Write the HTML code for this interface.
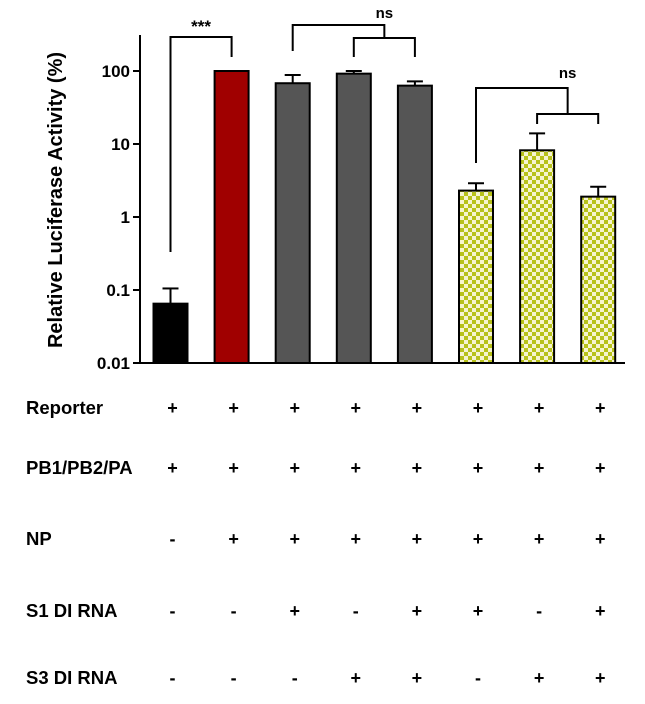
<!DOCTYPE html>
<html><head><meta charset="utf-8"><style>
body{margin:0;background:#fff;width:645px;height:699px;overflow:hidden}
text{font-family:"Liberation Sans",sans-serif;font-weight:bold}
</style></head><body>
<svg id="c" width="645" height="699">
<defs>
<pattern id="chk" width="8" height="8" patternUnits="userSpaceOnUse">
<rect width="8" height="8" fill="#f6f4d0"/><rect width="4" height="4" fill="#b8c21a"/><rect x="4" y="4" width="4" height="4" fill="#b8c21a"/>
</pattern>
</defs>
</svg>
<script>
const categories=["ctrl","full","s1","s3","s1s3","s1b","s3b","s1s3b"];
const values=[0.065,100,68,92,63,2.3,8.2,1.9];
const errors=[0.105,100,88,100,72,2.9,14,2.6];
const fills=["#000","#a00000","#555","#555","#555","url(#chk)","url(#chk)","url(#chk)"];
const ticks=[100,10,1,0.1,0.01];
const tickLabels=["100","10","1","0.1","0.01"];
const rowLabels=["Reporter","PB1/PB2/PA","NP","S1 DI RNA","S3 DI RNA"];
const rowSigns=[["+","+","+","+","+","+","+","+"],["+","+","+","+","+","+","+","+"],["-","+","+","+","+","+","+","+"],["-","-","+","-","+","+","-","+"],["-","-","-","+","+","-","+","+"]];
const rowY=[414,474,545,617,684];
const svg=document.getElementById('c');
const NS="http://www.w3.org/2000/svg";
const y=v=>363-73*(Math.log10(v)+2);
const x=i=>170.5+61.1*i;
const bw=34;
function mk(t,a,txt){const e=document.createElementNS(NS,t);for(const k in a)e.setAttribute(k,a[k]);if(txt!=null)e.textContent=txt;svg.appendChild(e);return e;}
let e;
e=mk('line',{x1:140,y1:35,x2:140,y2:364,stroke:'#000','stroke-width':2});


e=mk('line',{x1:133,y1:363,x2:625,y2:363,stroke:'#000','stroke-width':2});


ticks.forEach((t,i)=>{
 e=mk('line',{x1:133,y1:y(t),x2:140,y2:y(t),stroke:'#000','stroke-width':2});
 
 
 e=mk('text',{x:130,y:y(t)+6,'text-anchor':'end','font-size':17},tickLabels[i]);
 
 
});
e=mk('text',{x:0,y:0,'font-size':20,'text-anchor':'middle',transform:'translate(62,200) rotate(-90)'},'Relative Luciferase Activity (%)');


values.forEach((v,i)=>{
 const cx=x(i),top=y(v),et=y(errors[i]);
 e=mk('line',{x1:cx,y1:top,x2:cx,y2:et,stroke:'#000','stroke-width':2});
 
 
 e=mk('line',{x1:cx-8,y1:et,x2:cx+8,y2:et,stroke:'#000','stroke-width':2});
 
 
 e=mk('rect',{x:cx-bw/2,y:top,width:bw,height:363-top,fill:fills[i],stroke:'#000','stroke-width':2});
 
 
});
function path(d,name){e=mk('path',{d:d,fill:'none',stroke:'#000','stroke-width':2});}
path(`M${x(0)} 252V37H${x(1)}V57`,'significance-bracket-1');
e=mk('text',{x:(x(0)+x(1))/2,y:32,'text-anchor':'middle','font-size':17,'font-weight':'normal'},'***');


path(`M${x(2)} 51V25H${(x(3)+x(4))/2}V38M${x(3)} 57V38H${x(4)}V57`,'significance-bracket-2');
e=mk('text',{x:(x(3)+x(4))/2,y:18,'text-anchor':'middle','font-size':15,'font-weight':'normal'},'ns');


path(`M${x(5)} 163V88H${(x(6)+x(7))/2}V114M${x(6)} 124V114H${x(7)}V124`,'significance-bracket-3');
e=mk('text',{x:(x(6)+x(7))/2,y:78,'text-anchor':'middle','font-size':15,'font-weight':'normal'},'ns');


rowLabels.forEach((l,r)=>{
 e=mk('text',{x:26,y:rowY[r],'font-size':18.5},l);
 
 
 rowSigns[r].forEach((s,i)=>{
  e=mk('text',{x:x(i)+2,y:rowY[r],'text-anchor':'middle','font-size':18},s);
  
  
 });
});
</script>
</body></html>
